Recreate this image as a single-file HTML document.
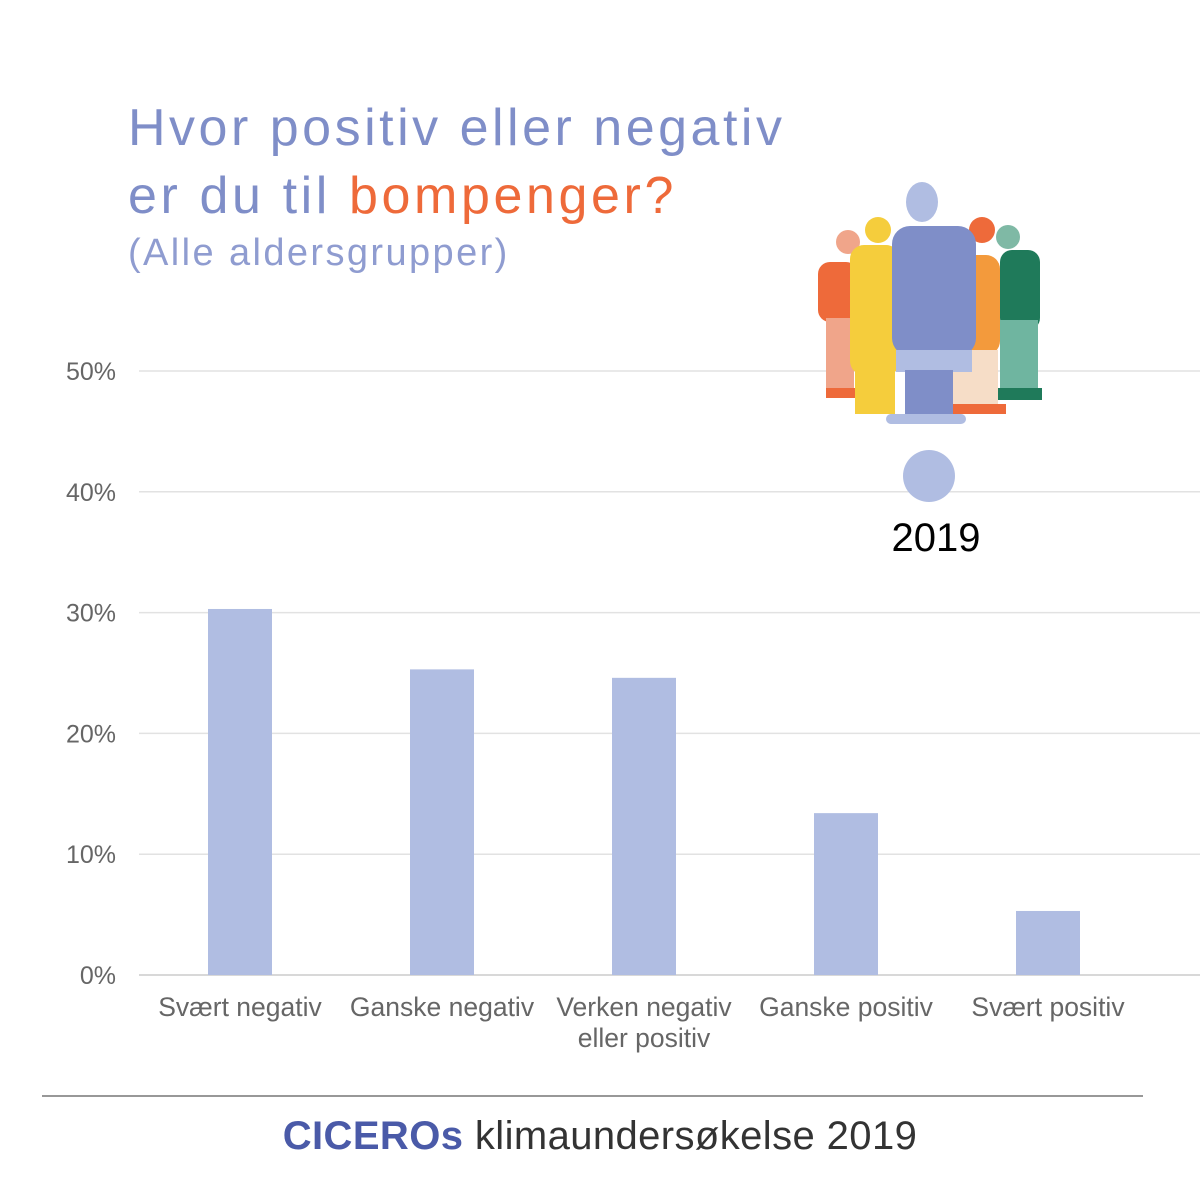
<!DOCTYPE html>
<html><head><meta charset="utf-8"><style>
body{margin:0;background:#fff;}
#c{position:relative;width:1200px;height:1200px;overflow:hidden;font-family:"Liberation Sans",sans-serif;}
.t{position:absolute;white-space:nowrap;}
</style></head><body>
<div id="c">
<div class="t" style="left:128px;top:98px;font-size:52px;color:#7f8ec8;letter-spacing:3.5px;">Hvor positiv eller negativ</div>
<div class="t" style="left:128px;top:166px;font-size:52px;color:#7f8ec8;letter-spacing:3.6px;">er du til <span style="color:#ee6a3a">bompenger?</span></div>
<div class="t" style="left:128px;top:232px;font-size:38px;color:#8f9cd0;letter-spacing:2.4px;">(Alle aldersgrupper)</div>
<svg id="s" width="1200" height="1200" style="position:absolute;left:0;top:0">
<g id="grid"></g><g id="bars"></g><g id="labels"></g>
<g>
<rect x="818" y="262" width="40" height="60" rx="12" fill="#ee6a3a"/><circle cx="848" cy="242" r="12" fill="#f0a58a"/><rect x="826" y="318" width="28" height="72" fill="#f0a58a"/><rect x="826" y="388" width="30" height="10" fill="#ee6a3a"/>
<rect x="1000" y="250" width="40" height="80" rx="12" fill="#1f7a5a"/><circle cx="1008" cy="237" r="12" fill="#7fb9a5"/><rect x="1000" y="320" width="38" height="70" fill="#6fb5a0"/><rect x="998" y="388" width="44" height="12" fill="#1f7a5a"/>
<rect x="850" y="245" width="50" height="130" rx="14" fill="#f5cd3c"/><circle cx="878" cy="230" r="13" fill="#f5cd3c"/><rect x="855" y="370" width="40" height="44" fill="#f5cd3c"/>
<rect x="950" y="255" width="50" height="100" rx="14" fill="#f39a3c"/><circle cx="982" cy="230" r="13" fill="#ee6a3a"/><rect x="952" y="350" width="46" height="58" fill="#f6ddc7"/><rect x="948" y="404" width="58" height="10" fill="#ee6a3a"/>
<rect x="892" y="226" width="84" height="130" rx="18" fill="#7f8ec8"/><ellipse cx="922" cy="202" rx="16" ry="20" fill="#b0bde2"/><rect x="896" y="350" width="76" height="22" fill="#b0bde2"/><rect x="905" y="370" width="48" height="50" fill="#7f8ec8"/><rect x="886" y="414" width="80" height="10" rx="5" fill="#b0bde2"/>
</g>
<circle cx="929" cy="476" r="26" fill="#b0bde2"/>
<text x="936" y="551" font-size="40" text-anchor="middle" fill="#000">2019</text>
<line x1="42" y1="1096" x2="1143" y2="1096" stroke="#777" stroke-width="1.5"/>
</svg>
<div class="t" style="left:0;width:1200px;text-align:center;top:1114px;font-size:40px;color:#333;letter-spacing:0.4px;"><b style="color:#4a5aa8">CICEROs</b> klimaundersøkelse 2019</div>
</div>
<script>
const categories=[["Svært negativ"],["Ganske negativ"],["Verken negativ","eller positiv"],["Ganske positiv"],["Svært positiv"]];
const values=[30.3,25.3,24.6,13.4,5.3];
const ticks=[0,10,20,30,40,50];
const tickLabels=["0%","10%","20%","30%","40%","50%"];
const NS="http://www.w3.org/2000/svg";
const x0=139,band=202,barW=64;
const y=v=>975-v*12.08;
const x=i=>x0+band*i+band/2;
const g=document.getElementById('grid'),b=document.getElementById('bars'),l=document.getElementById('labels');
function mk(tag,at,p){const e=document.createElementNS(NS,tag);for(const k in at)e.setAttribute(k,at[k]);p.appendChild(e);return e;}
ticks.forEach((t,i)=>{
 const ln=mk('line',{x1:x0,x2:1200,y1:y(t),y2:y(t),stroke:i==0?'#ccc':'#e2e2e2','stroke-width':1.5},g);
 
 
 const tx=mk('text',{x:116,y:y(t)+9,'font-size':25,fill:'#666','text-anchor':'end'},g);
 tx.textContent=tickLabels[i];
 
 
});
values.forEach((v,i)=>{
 const r=mk('rect',{x:x(i)-barW/2,y:y(v),width:barW,height:y(0)-y(v),fill:'#b0bde2'},b);
 
 
 categories[i].forEach((s,j)=>{
  const tx=mk('text',{x:x(i),y:1016+j*31,'font-size':26.5,fill:'#666','text-anchor':'middle'},l);
  tx.textContent=s;
  
  
 });
});
</script>
</body></html>
